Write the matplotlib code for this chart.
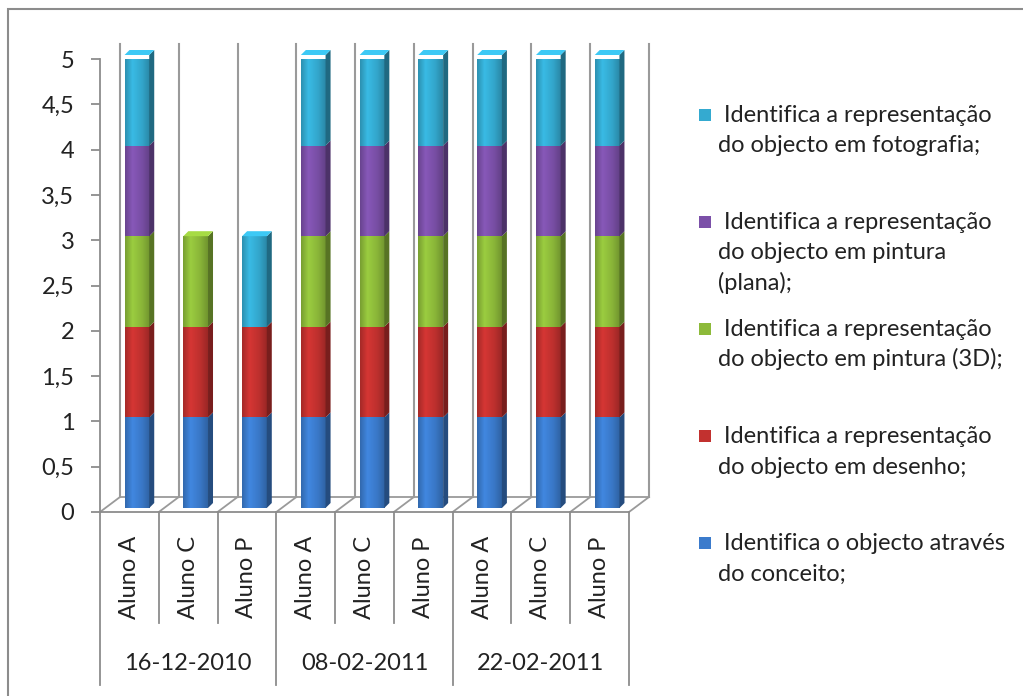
import numpy as np
import matplotlib
matplotlib.use("Agg")
import matplotlib.pyplot as plt
from matplotlib.patches import Polygon, Rectangle
from matplotlib.lines import Line2D
from matplotlib.transforms import Affine2D, blended_transform_factory
from matplotlib.colors import LinearSegmentedColormap, to_rgb

# --- data ---
students = ["Aluno A", "Aluno C", "Aluno P"] * 3
dates = ["16-12-2010", "08-02-2011", "22-02-2011"]
yticks = [0, 0.5, 1, 1.5, 2, 2.5, 3, 3.5, 4, 4.5, 5]

series_names = [
    "Identifica o objecto através\ndo conceito;",
    "Identifica a representação\ndo objecto em desenho;",
    "Identifica a representação\ndo objecto em pintura (3D);",
    "Identifica a representação\ndo objecto em pintura\n(plana);",
    "Identifica a representação\ndo objecto em fotografia;",
]
conceito = [1, 1, 1, 1, 1, 1, 1, 1, 1]
desenho = [1, 1, 1, 1, 1, 1, 1, 1, 1]
pintura_3d = [1, 1, 0, 1, 1, 1, 1, 1, 1]
pintura_plana = [1, 0, 0, 1, 1, 1, 1, 1, 1]
fotografia = [1, 0, 1, 1, 1, 1, 1, 1, 1]
series = [conceito, desenho, pintura_3d, pintura_plana, fotografia]
colors = ["#3b7bcc", "#c2312f", "#8dba3a", "#7b50a8", "#34aad0"]

# --- layout (pixels) ---
W, H = 1023, 696
AX_L, AX_R, AX_B, AX_T = 100, 629, 512, 59
GRID = "#9a9a9a"
TXT = "#222222"

plt.rcParams["font.family"] = ["Lato", "DejaVu Sans"]
plt.rcParams["font.size"] = 17

fig = plt.figure(figsize=(W / 100, H / 100), dpi=100)
ax = fig.add_axes([AX_L / W, 1 - AX_B / H, (AX_R - AX_L) / W, (AX_B - AX_T) / H])
n = len(students)
ax.set_xlim(0, n)
ax.set_ylim(0, 5)

ux = (AX_R - AX_L) / n   # px per category
uy = (AX_B - AX_T) / 5   # px per unit


def shifted(dx, dy):
    return ax.transData + Affine2D().translate(dx, dy)


def scale(rgb, f):
    return tuple(min(1.0, c * f) for c in rgb)


# back wall + floor
bx, by = 20 / ux, 15 / uy
for k in range(n + 1):
    ax.add_line(Line2D([k + bx, k + bx], [by, 5 + by], color=GRID, lw=1.5, clip_on=False, zorder=1))
    ax.add_line(Line2D([k, k + bx], [0, by], color=GRID, lw=1.3, clip_on=False, zorder=1))
ax.add_line(Line2D([bx, n + bx], [by, by], color=GRID, lw=1.3, clip_on=False, zorder=1))

# stacked 3D-ish columns
bar_w = 0.42
sx, sy = 5 / ux, 5 / uy
bar_tr = shifted(7.5, 4)
xpos = np.arange(n) + 0.5
bottoms = np.zeros(n)
tops = {}
for vals, color in zip(series, colors):
    vals = np.array(vals, dtype=float)
    rgb = to_rgb(color)
    ax.bar(xpos, vals, width=bar_w, bottom=bottoms, color=color, linewidth=0,
           transform=bar_tr, zorder=3)
    cmap = LinearSegmentedColormap.from_list(
        "g", [(0, scale(rgb, 0.85)), (0.3, scale(rgb, 1.1)), (0.7, scale(rgb, 0.97)), (1, scale(rgb, 0.8))])
    grad = np.linspace(0, 1, 64).reshape(1, -1)
    for x, b, v in zip(xpos, bottoms, vals):
        if v <= 0:
            continue
        x0, x1 = x - bar_w / 2, x + bar_w / 2
        ax.imshow(grad, cmap=cmap, extent=(x0, x1, b, b + v), transform=bar_tr,
                  aspect="auto", interpolation="bilinear", zorder=3.1)
        side = [(x1, b), (x1 + sx, b + sy), (x1 + sx, b + v + sy), (x1, b + v)]
        ax.add_patch(Polygon(side, closed=True, fc=scale(rgb, 0.62), ec="none",
                             transform=bar_tr, zorder=3.2, clip_on=False))
        tops[x] = (b + v, rgb)
    bottoms += vals

for x, (t, rgb) in tops.items():
    x0, x1 = x - bar_w / 2, x + bar_w / 2
    cap = [(x0, t), (x0 + sx, t + sy), (x1 + sx, t + sy), (x1, t)]
    ax.add_patch(Polygon(cap, closed=True, fc=scale(rgb, 1.18), ec="none",
                         transform=bar_tr, zorder=3.3, clip_on=False))

ax.set_xlim(0, n)
ax.set_ylim(0, 5)

# axes styling
for s in ["top", "right"]:
    ax.spines[s].set_visible(False)
for s in ["left", "bottom"]:
    ax.spines[s].set_color("#8c8c8c")
    ax.spines[s].set_linewidth(1.3)
ax.set_xticks([])
ax.set_yticks(yticks)
ax.set_yticklabels([f"{v:g}".replace(".", ",") for v in yticks], color=TXT)
ax.tick_params(axis="y", length=6.5, width=1.3, color="#8c8c8c", pad=12)
ax.patch.set_alpha(0)

# multi-level category axis
y_inner = -(623 - AX_B) / uy
y_outer = -(685 - AX_B) / uy
for k in range(n + 1):
    y_end = y_outer if k % 3 == 0 else y_inner
    ax.add_line(Line2D([k, k], [0, y_end], color="#8c8c8c", lw=1.3, clip_on=False))

lab_tr = blended_transform_factory(ax.transData, fig.transFigure)
for x, name in zip(xpos, students):
    ax.text(x, 1 - 577 / H, name, rotation=90, ha="center", va="center",
            color=TXT, transform=lab_tr)
for g, d in enumerate(dates):
    ax.text(g * 3 + 1.5, 1 - 663 / H, d, ha="center", va="center",
            color=TXT, transform=lab_tr)

# legend (top entry = last series)
for k, idx in enumerate(range(len(series) - 1, -1, -1)):
    yc = 113 + 107 * k
    fig.add_artist(Rectangle((699 / W, 1 - (yc + 8) / H), 12 / W, 12 / H,
                             transform=fig.transFigure, fc=colors[idx], ec="none"))
    for j, line in enumerate(series_names[idx].split("\n")):
        txt = " " + line if j == 0 else line
        fig.text(718 / W, 1 - (yc + 9 + 30.5 * j) / H, txt, ha="left",
                 va="baseline", color=TXT)

# outer chart border
fig.add_artist(Rectangle((8 / W, -0.05), 1.1, 1 - 9 / H + 0.05, transform=fig.transFigure,
                         fill=False, ec="#8c8c8c", lw=1.5))

fig.savefig("out.png", dpi=100)
